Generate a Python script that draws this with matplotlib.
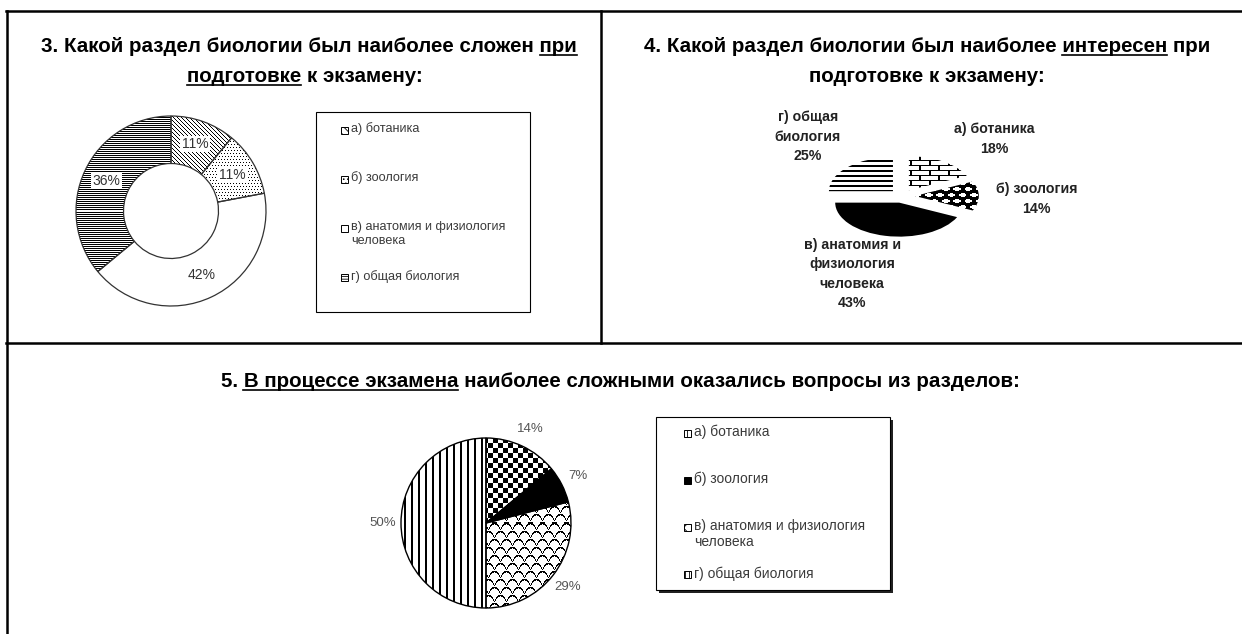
import numpy as np
import matplotlib
matplotlib.use("Agg")
import matplotlib.pyplot as plt
from matplotlib.patches import Rectangle
from matplotlib.lines import Line2D

plt.rcParams['font.family'] = ['Liberation Sans', 'DejaVu Sans']
plt.rcParams['hatch.linewidth'] = 0.6

W, H = 1242, 634

# --- data ---
categories = ["а) ботаника", "б) зоология", "в) анатомия и физиология\nчеловека", "г) общая биология"]
hard_prep = [11, 11, 42, 36]        # 3. сложен при подготовке
interest_prep = [18, 14, 43, 25]    # 4. интересен при подготовке
hard_exam = [14, 7, 29, 50]         # 5. сложно на экзамене
labels4 = ["а) ботаника", "б) зоология", "в) анатомия и\nфизиология\nчеловека", "г) общая\nбиология"]

title3 = ["3. Какой раздел биологии был наиболее сложен при", "подготовке к экзамену:"]
title4 = ["4. Какой раздел биологии был наиболее интересен при", "подготовке к экзамену:"]
title5 = "5. В процессе экзамена наиболее сложными оказались вопросы из разделов:"


def px_axes(fig, x0, y0, x1, y1):
    return fig.add_axes([x0 / W, 1 - y1 / H, (x1 - x0) / W, (y1 - y0) / H])


def pattern(kind, w, h):
    yy, xx = np.mgrid[0:h, 0:w]
    if kind == "diag":
        black = (xx - yy) % 4 == 0
    elif kind == "dots":
        black = (xx % 3 == (yy // 3 % 2)) & (yy % 3 == 0)
    elif kind == "hfine":
        black = yy % 2 == 0
    elif kind == "brick":
        black = (yy % 5 == 0) | (((xx + 5 * ((yy // 5) % 2)) % 10 == 0))
    elif kind == "balls":
        cx = (xx + 3 * ((yy // 6) % 2)) % 6 - 2.5
        cy = yy % 6 - 2.5
        black = cx ** 2 + cy ** 2 > 3.0
    elif kind == "hthick":
        black = yy % 5 < 2
    elif kind == "checker":
        black = (xx // 5 + yy // 5) % 2 == 0
    elif kind == "scales":
        r = yy // 8
        ox = (xx + 6 * (r % 2)) % 12 - 6
        oy = yy % 8
        black = np.abs(oy - (1 + 6 * (np.abs(ox) / 6.0) ** 2)) < 0.9
    elif kind == "vlines":
        black = xx % 7 < 2
    else:
        black = np.zeros_like(xx, dtype=bool)
    return np.where(black, 0.0, 1.0)


def fill_wedges(ax, wedges, kinds, lim_x, lim_y):
    pos = ax.get_position()
    w = int(round(pos.width * W))
    h = int(round(pos.height * H))
    for wd, k in zip(wedges, kinds):
        if k is None:
            continue
        if k == "black":
            wd.set_facecolor("black")
            continue
        im = ax.imshow(pattern(k, w, h), cmap="gray", vmin=0, vmax=1,
                       extent=(-lim_x, lim_x, -lim_y, lim_y),
                       interpolation="nearest", aspect="auto", zorder=0)
        im.set_clip_path(wd)
    ax.set_aspect("auto")
    ax.set_xlim(-lim_x, lim_x)
    ax.set_ylim(-lim_y, lim_y)
    ax.axis("off")


def text_width(fig, r, s, **kw):
    t = fig.text(0, 0, s + "|", **kw)
    w1 = t.get_window_extent(r).width
    t.remove()
    t = fig.text(0, 0, "|", **kw)
    w2 = t.get_window_extent(r).width
    t.remove()
    return w1 - w2


def title_line(fig, r, xc, yb, s, underline=None, **kw):
    t = fig.text(xc / W, 1 - yb / H, s, ha="center", va="baseline", **kw)
    if underline:
        bb = t.get_window_extent(r)
        i = s.index(underline)
        xa = bb.x0 + (text_width(fig, r, s[:i], **kw) if i > 0 else 0)
        xb = xa + text_width(fig, r, underline, **kw)
        y = (H - yb) - 2.5
        fig.add_artist(Line2D([xa / W, xb / W], [y / H, y / H],
                              transform=fig.transFigure, color="black", lw=1.2))


def legend_box(fig, x0, y0, x1, y1, labels, hatches, ys, mx, tx, fs, shadow=False):
    ax = px_axes(fig, x0 - 5, y0 - 5, x1 + 5, y1 + 5)
    ax.set_xlim(x0 - 5, x1 + 5)
    ax.set_ylim(y1 + 5, y0 - 5)
    ax.axis("off")
    if shadow:
        ax.add_patch(Rectangle((x0 + 3, y0 + 3), x1 - x0, y1 - y0, facecolor="#222222",
                               edgecolor="none", zorder=0))
    ax.add_patch(Rectangle((x0, y0), x1 - x0, y1 - y0, facecolor="white",
                           edgecolor="black", lw=0.8, zorder=1))
    fs_px = fs * 100 / 72
    for lab, ht, y in zip(labels, hatches, ys):
        fc = "black" if ht == "black" else "white"
        ax.add_patch(Rectangle((mx - 3.5, y - 3.5), 7, 7, facecolor=fc,
                               hatch=None if ht in ("black", "") else ht,
                               edgecolor="black", lw=0.7, zorder=2))
        ax.text(tx, y - 0.62 * fs_px, lab, ha="left", va="top", fontsize=fs,
                color="#3a3a3a", linespacing=1.2, zorder=3)


fig = plt.figure(figsize=(W / 100, H / 100), dpi=100)
fig.patch.set_facecolor("white")
r = fig.canvas.get_renderer()

# frame lines
for (xa, ya, xb, yb) in [(6, 11, 1242, 11), (7, 11, 7, 634), (601, 11, 601, 343), (6, 343, 1242, 343)]:
    fig.add_artist(Line2D([xa / W, xb / W], [1 - ya / H, 1 - yb / H],
                          transform=fig.transFigure, color="black", lw=1.8))

tkw = dict(fontsize=14.8, weight="bold", color="black")
title_line(fig, r, 309, 52, title3[0], "при", **tkw)
title_line(fig, r, 305, 82, title3[1], "подготовке", **tkw)
title_line(fig, r, 927, 52, title4[0], "интересен", **tkw)
title_line(fig, r, 927, 82, title4[1], None, **tkw)
title_line(fig, r, 620, 387, title5, "В процессе экзамена", **tkw)

# --- panel 3: donut ---
cx, cy, R, L = 171, 211, 95, 1.05
ax3 = px_axes(fig, cx - R * L, cy - R * L, cx + R * L, cy + R * L)
w3, _, at3 = ax3.pie(hard_prep, startangle=90, counterclock=False,
                     autopct=lambda p: f"{p:.0f}%", pctdistance=0.75,
                     wedgeprops=dict(width=0.5, edgecolor="#333333", linewidth=0.9, facecolor="none"),
                     textprops=dict(color="#333333", fontsize=10))
for t in at3:
    t.set_bbox(dict(facecolor="white", edgecolor="none", pad=1.0))
    t.set_zorder(5)
fill_wedges(ax3, w3, ["diag", "dots", None, "hfine"], L, L)

legend_box(fig, 316, 112, 530, 312, categories,
           ["\\\\\\\\", "....", "", "------"],
           [130 + 49.3 * i for i in range(4)], 344, 351, 9.1)

# --- panel 4: exploded flattened pie ---
cx, cy, rx, ry, L = 902, 196, 64, 34, 1.35
ax4 = px_axes(fig, cx - rx * L, cy - ry * L, cx + rx * L, cy + ry * L)
w4, _ = ax4.pie(interest_prep, startangle=90, counterclock=False, explode=[0.2] * 4,
                wedgeprops=dict(edgecolor="none", linewidth=0, facecolor="none"))
fill_wedges(ax4, w4, ["brick", "balls", "black", "hthick"], L, L)
label4_pos = [(1.45, 1.68), (2.1, -0.09), (-0.78, -2.3), (-1.47, 1.74)]
for lab, v, (lx, ly) in zip(labels4, interest_prep, label4_pos):
    ax4.text(lx, ly, f"{lab}\n{v}%", ha="center", va="center", fontsize=10.2,
             weight="bold", color="#222222", linespacing=1.5, clip_on=False)

# --- panel 5: pie ---
cx, cy, R, L = 486, 523, 85, 1.05
ax5 = px_axes(fig, cx - R * L, cy - R * L, cx + R * L, cy + R * L)
w5, _, at5 = ax5.pie(hard_exam, startangle=90, counterclock=False,
                     autopct=lambda p: f"{p:.0f}%", pctdistance=1.22,
                     wedgeprops=dict(edgecolor="black", linewidth=1.0, facecolor="none"),
                     textprops=dict(color="#555555", fontsize=9.5))
fill_wedges(ax5, w5, ["checker", "black", "scales", "vlines"], L, L)

legend_box(fig, 656, 417, 890, 590, categories,
           ["++", "black", "xxx", "||||"],
           [433 + 47.3 * i for i in range(4)], 687, 694, 10, shadow=True)

fig.savefig("out.png", dpi=100, facecolor="white")
